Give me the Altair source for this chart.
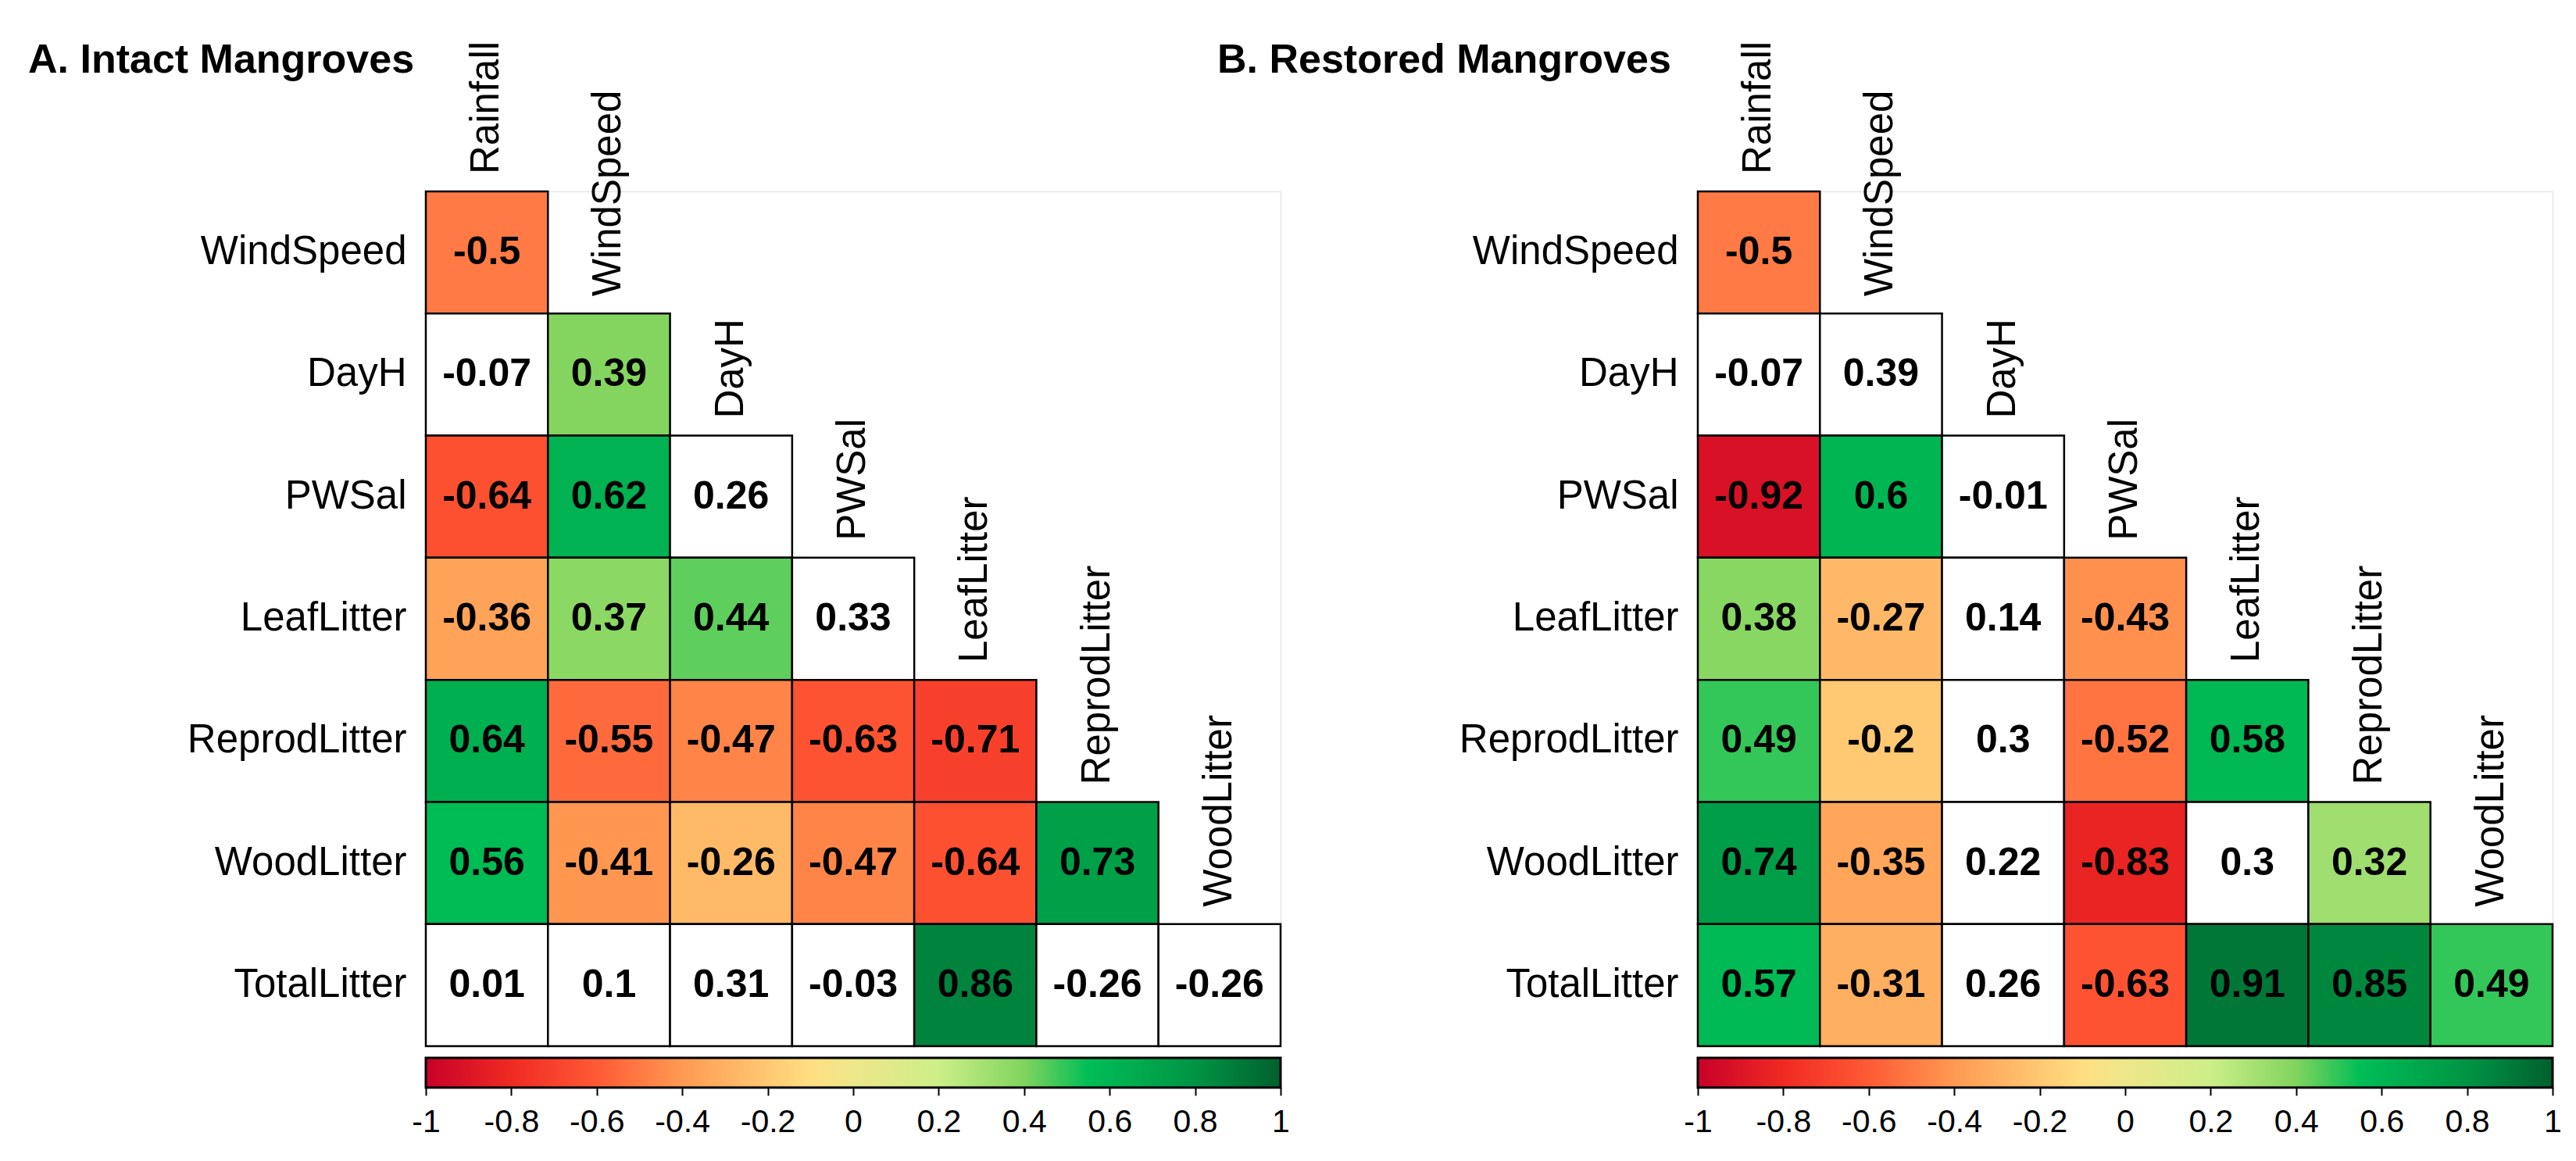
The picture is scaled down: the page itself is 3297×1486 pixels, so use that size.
import altair as alt
import pandas as pd

rows = ["WindSpeed", "DayH", "PWSal", "LeafLitter", "ReprodLitter", "WoodLitter", "TotalLitter"]
cols = ["Rainfall", "WindSpeed", "DayH", "PWSal", "LeafLitter", "ReprodLitter", "WoodLitter"]

# lower-triangle correlations, one list per row
intact_r = [
    [-0.5],
    [-0.07, 0.39],
    [-0.64, 0.62, 0.26],
    [-0.36, 0.37, 0.44, 0.33],
    [0.64, -0.55, -0.47, -0.63, -0.71],
    [0.56, -0.41, -0.26, -0.47, -0.64, 0.73],
    [0.01, 0.1, 0.31, -0.03, 0.86, -0.26, -0.26],
]
intact_sig = [
    [1],
    [0, 1],
    [1, 1, 0],
    [1, 1, 1, 0],
    [1, 1, 1, 1, 1],
    [1, 1, 1, 1, 1, 1],
    [0, 0, 0, 0, 1, 0, 0],
]
restored_r = [
    [-0.5],
    [-0.07, 0.39],
    [-0.92, 0.6, -0.01],
    [0.38, -0.27, 0.14, -0.43],
    [0.49, -0.2, 0.3, -0.52, 0.58],
    [0.74, -0.35, 0.22, -0.83, 0.3, 0.32],
    [0.57, -0.31, 0.26, -0.63, 0.91, 0.85, 0.49],
]
restored_sig = [
    [1],
    [0, 0],
    [1, 1, 0],
    [1, 1, 0, 1],
    [1, 1, 0, 1, 1],
    [1, 1, 0, 1, 0, 1],
    [1, 1, 0, 1, 1, 1, 1],
]

color_domain = [-1, -0.8, -0.6, -0.4, -0.2, -0.1, 0, 0.2, 0.4, 0.55, 0.8, 1]
color_range = ["#C8002A", "#F02A22", "#FF5A35", "#FF9A52", "#FFC872", "#FFDE82",
               "#EEE68A", "#CDEE88", "#80D45E", "#00BE56", "#009444", "#00602D"]
tick_values = [-1, -0.8, -0.6, -0.4, -0.2, 0, 0.2, 0.4, 0.6, 0.8, 1]

FONT = "Liberation Sans"
SIZE = 1094


def build_df(r, sig):
    recs = []
    for i, row in enumerate(rows):
        for j, v in enumerate(r[i]):
            recs.append({"row": row, "col": cols[j], "r": v, "lab": str(v),
                         "sig": sig[i][j]})
    return pd.DataFrame(recs)


diag = pd.DataFrame({"col": cols, "row": rows})


def xenc():
    return alt.X("col:N", axis=None,
                 scale=alt.Scale(domain=cols, paddingInner=0, paddingOuter=0))


def yenc(**kw):
    return alt.Y("row:N",
                 scale=alt.Scale(domain=rows, paddingInner=0, paddingOuter=0),
                 axis=alt.Axis(title=None, ticks=False, domain=False, labelFontSize=51,
                               labelFont=FONT, labelColor="black", labelPadding=25,
                               labelLimit=0),
                 **kw)


def grid_chart(title, r, sig, title_dx):
    df = build_df(r, sig)
    base = alt.Chart(df)
    cells = base.mark_rect(stroke="black", strokeWidth=2.5).encode(
        x=xenc(), y=yenc(),
        fill=alt.condition(
            "datum.sig == 1",
            alt.Fill("r:Q", scale=alt.Scale(domain=color_domain, range=color_range,
                                            interpolate="rgb"), legend=None),
            alt.value("white"),
        ),
    )
    values = base.mark_text(font=FONT, fontSize=50, fontWeight="bold", color="black").encode(
        x=xenc(), y=yenc(), text="lab:N"
    )
    labels = alt.Chart(diag).mark_text(
        font=FONT, fontSize=51, angle=270, align="left", baseline="middle", dx=22,
        color="black"
    ).encode(x=xenc(), y=yenc(bandPosition=0), text="col:N")
    return alt.layer(cells, values, labels).properties(
        width=SIZE, height=SIZE,
        title=alt.TitleParams(title, anchor="start", frame="group", dx=title_dx, dy=92,
                              offset=0, baseline="alphabetic", fontSize=52,
                              fontWeight="bold", font=FONT, color="black"),
    )


def colorbar():
    stops = [alt.GradientStop(offset=(d + 1) / 2, color=c)
             for d, c in zip(color_domain, color_range)]
    grad = alt.LinearGradient(gradient="linear", stops=stops, x1=0, x2=1, y1=0, y2=0)
    cb_df = pd.DataFrame({"lo": [-1], "hi": [1]})
    return alt.Chart(cb_df).mark_rect(fill=grad, stroke="black", strokeWidth=3).encode(
        x=alt.X("lo:Q", scale=alt.Scale(domain=[-1, 1], nice=False),
                axis=alt.Axis(values=tick_values, labelExpr="'' + datum.value", title=None,
                              domain=False, grid=False, tickSize=10, tickColor="black",
                              tickWidth=2, labelFontSize=41, labelFont=FONT,
                              labelColor="black", labelPadding=14, labelFlush=False)),
        x2="hi:Q",
    ).properties(width=SIZE, height=38)


gA = grid_chart("A. Intact Mangroves", intact_r, intact_sig, -509)
gB = grid_chart("B. Restored Mangroves", restored_r, restored_sig, -615)

chart = alt.concat(
    gA, gB, colorbar(), colorbar(),
    columns=2, bounds="flush", spacing={"row": 15, "column": 534},
).properties(
    padding={"left": 27, "top": 42, "right": 10, "bottom": 10}
).configure_view(stroke=None).configure(background="white")

chart.save("out.html", embed_options={"renderer": "svg", "actions": False})
